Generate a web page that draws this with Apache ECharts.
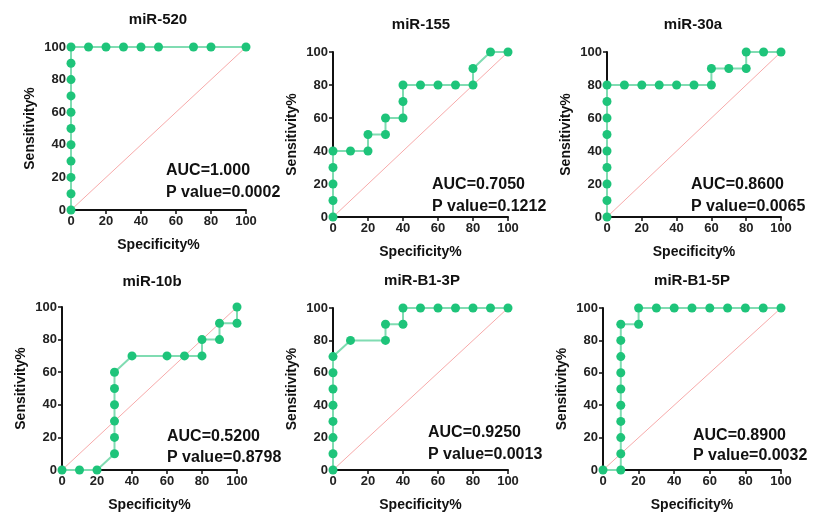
<!DOCTYPE html>
<html>
<head>
<meta charset="utf-8">
<script src="https://cdn.jsdelivr.net/npm/echarts@6/dist/echarts.min.js"></script>
<style>html,body{margin:0;padding:0;background:#fff}#c{width:814px;height:513px}</style>
</head>
<body>
<div id="c"></div>
<script>
// Panel names
var panelNames = ['miR-520', 'miR-155', 'miR-30a', 'miR-10b', 'miR-B1-3P', 'miR-B1-5P'];
var aucLabels = ['AUC=1.000', 'AUC=0.7050', 'AUC=0.8600', 'AUC=0.5200', 'AUC=0.9250', 'AUC=0.8900'];
var pLabels = ['P value=0.0002', 'P value=0.1212', 'P value=0.0065', 'P value=0.8798', 'P value=0.0013', 'P value=0.0032'];
var tickValues = [0, 20, 40, 60, 80, 100];

// ROC points: specificity% (x) and sensitivity% (y)
var spec520 = [0,0,0,0,0,0,0,0,0,0,0,10,20,30,40,50,70,80,100];
var sens520 = [0,10,20,30,40,50,60,70,80,90,100,100,100,100,100,100,100,100,100];

var spec155 = [0,0,0,0,0,10,20,20,30,30,40,40,40,50,60,70,80,80,90,100];
var sens155 = [0,10,20,30,40,40,40,50,50,60,60,70,80,80,80,80,80,90,100,100];

var spec30a = [0,0,0,0,0,0,0,0,0,10,20,30,40,50,60,60,70,80,80,90,100];
var sens30a = [0,10,20,30,40,50,60,70,80,80,80,80,80,80,80,90,90,90,100,100,100];

var spec10b = [0,10,20,30,30,30,30,30,30,40,60,70,80,80,90,90,100,100];
var sens10b = [0,0,0,10,20,30,40,50,60,70,70,70,70,80,80,90,90,100];

var specB13 = [0,0,0,0,0,0,0,0,10,30,30,40,40,50,60,70,80,90,100];
var sensB13 = [0,10,20,30,40,50,60,70,80,80,90,90,100,100,100,100,100,100,100];

var specB15 = [0,10,10,10,10,10,10,10,10,10,10,20,20,30,40,50,60,70,80,90,100];
var sensB15 = [0,0,10,20,30,40,50,60,70,80,90,90,100,100,100,100,100,100,100,100,100];

var refX = [0, 100];
var refY = [0, 100];

var specs = [spec520, spec155, spec30a, spec10b, specB13, specB15];
var senss = [sens520, sens155, sens30a, sens10b, sensB13, sensB15];

function zip(a, b) { return a.map(function (v, i) { return [v, b[i]]; }); }

// layout
var grids = [
  {left: 71, top: 47, width: 175, height: 163},
  {left: 333, top: 52, width: 175, height: 165},
  {left: 607, top: 52, width: 174, height: 165},
  {left: 62, top: 307, width: 175, height: 164},
  {left: 333, top: 308, width: 175, height: 163},
  {left: 603, top: 308, width: 178, height: 163}
];
var titlePos = [[158, 20], [421, 25], [693, 25], [152, 282], [422, 281], [692, 281]];
var aucPos = [[166, 171, 193], [432, 185, 207], [691, 185, 207], [167, 437, 458], [428, 433, 455], [693, 436, 456]];

var FONT = '"Liberation Sans", Arial, sans-serif';
var xAxes = [], yAxes = [], series = [], graphics = [];
for (var i = 0; i < 6; i++) {
  var axisCommon = {
    type: 'value', gridIndex: i, min: 0, max: 100, interval: 20,
    splitLine: {show: false},
    axisLine: {show: true, onZero: false, lineStyle: {color: '#111', width: 2}},
    axisTick: {show: true, length: 4, lineStyle: {color: '#111', width: 1.5}},
    axisLabel: {color: '#222', fontFamily: FONT, fontWeight: 'bold', fontSize: 13, margin: 5},
    nameLocation: 'middle',
    nameTextStyle: {color: '#111', fontFamily: FONT, fontWeight: 'bold', fontSize: 14}
  };
  xAxes.push(Object.assign({}, axisCommon, {name: 'Specificity%', nameGap: 28}));
  yAxes.push(Object.assign({}, axisCommon, {name: 'Sensitivity%', nameGap: 34}));
  series.push({
    type: 'line', xAxisIndex: i, yAxisIndex: i, data: zip(refX, refY),
    showSymbol: false, symbol: 'none', silent: true, z: 1,
    lineStyle: {color: '#f7aaaa', width: 1}
  });
  series.push({
    type: 'line', xAxisIndex: i, yAxisIndex: i, data: zip(specs[i], senss[i]),
    symbol: 'circle', symbolSize: 9, clip: false, z: 3,
    itemStyle: {color: '#1ec47a'},
    lineStyle: {color: '#80dcb2', width: 2}
  });
  graphics.push({
    type: 'text', x: titlePos[i][0], y: titlePos[i][1],
    style: {text: panelNames[i], font: 'bold 15px ' + FONT, fill: '#111', align: 'center', verticalAlign: 'middle'}
  });
  graphics.push({
    type: 'text', x: aucPos[i][0], y: aucPos[i][1],
    style: {text: aucLabels[i], font: 'bold 16px ' + FONT, fill: '#111', align: 'left', verticalAlign: 'middle'}
  });
  graphics.push({
    type: 'text', x: aucPos[i][0], y: aucPos[i][2],
    style: {text: pLabels[i], font: 'bold 16px ' + FONT, fill: '#111', align: 'left', verticalAlign: 'middle'}
  });
}

var chart = echarts.init(document.getElementById('c'), null, {renderer: 'canvas'});
chart.setOption({
  animation: false,
  backgroundColor: '#fff',
  grid: grids,
  xAxis: xAxes,
  yAxis: yAxes,
  series: series,
  graphic: graphics
});
</script>
</body>
</html>
